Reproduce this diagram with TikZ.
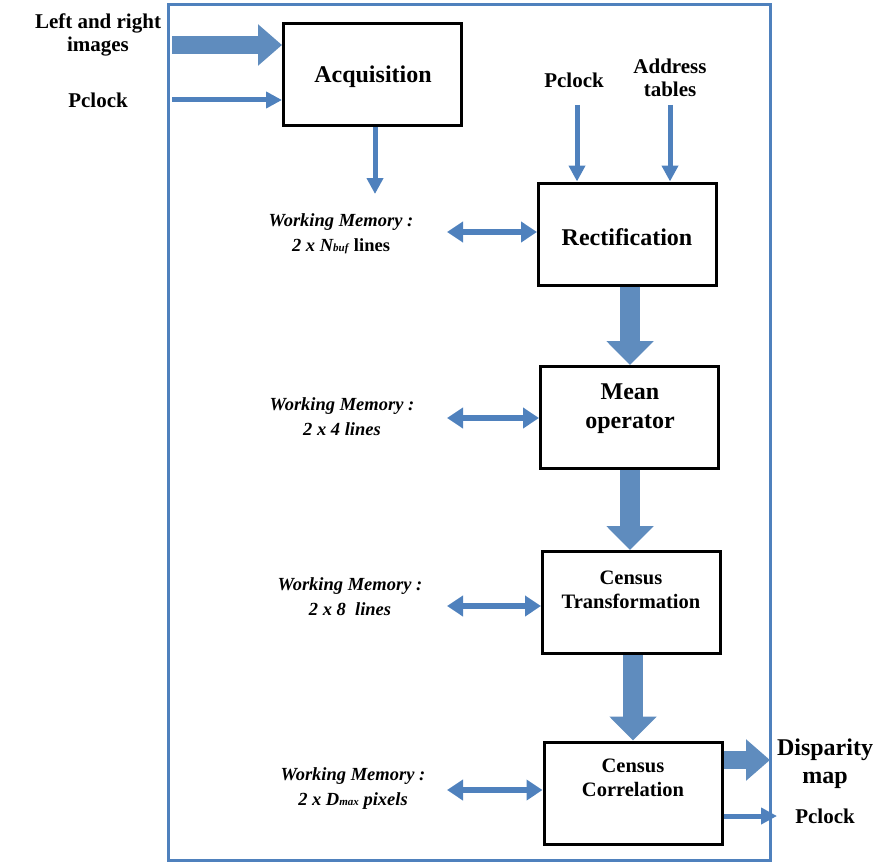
\documentclass[tikz,border=0pt]{standalone}
\usepackage{fontspec}
\setmainfont{Liberation Serif}
\usetikzlibrary{arrows.meta}
\definecolor{ablue}{RGB}{79,129,189}
\definecolor{fblue}{RGB}{95,140,190}
\begin{document}
\begin{tikzpicture}[x=1pt,y=-1pt,
  blk/.style={draw=black,line width=3pt,minimum width=178pt,minimum height=102pt,inner sep=0pt,fill=white},
  btxt/.style={font=\fontsize{24}{29}\selectfont\bfseries,align=center,inner sep=0pt},
  ctxt/.style={font=\fontsize{20.5}{24}\selectfont\bfseries,align=center,inner sep=0pt},
  ltxt/.style={font=\fontsize{21}{23}\selectfont\bfseries,align=center,inner sep=0pt},
  wtxt/.style={font=\fontsize{18.5}{25}\selectfont\bfseries\itshape,align=center,inner sep=0pt},
  fat/.style={draw=fblue,line width=20pt,-{Triangle[width=46pt,length=24pt]}},
  fath/.style={draw=fblue,line width=18pt,-{Triangle[width=40pt,length=24pt]}},
  thin/.style={draw=ablue,line width=5pt,-{Triangle[width=16pt,length=16pt]}},
  dbl/.style={draw=ablue,line width=6pt,{Triangle[width=20pt,length=16pt]}-{Triangle[width=20pt,length=16pt]}},
]
\useasboundingbox (0,0) rectangle (885,864);
\node[draw=ablue,line width=3pt,minimum width=602pt,minimum height=855pt,inner sep=0pt] (frame) at (469,432.5) {};

% blocks
\node[blk] (acq) at (372.5,74.5) {};
\node[btxt] (acqt) at (373,77) {Acquisition};
\node[blk] (rect) at (627.5,234) {};
\node[btxt] (rectt) at (627,237) {Rectification};
\node[blk] (mean) at (629.5,417.5) {};
\node[btxt] (meant) at (630,409) {Mean\\operator};
\node[blk] (ctr) at (631.5,602.5) {};
\node[ctxt] (ctrt) at (631,589.5) {Census\\Transformation};
\node[blk] (ccor) at (633,793) {};
\node[ctxt] (ccort) at (633,777.5) {Census\\Correlation};

% outside labels
\node[ltxt] (lr) at (98,35) {Left and right\\images};
\node[ltxt] (pc1) at (98,100) {Pclock};
\node[ltxt] (pc2) at (574,80) {Pclock};
\node[ltxt] (addr) at (670,78) {Address\\tables};
\node[ltxt,font=\fontsize{24}{28}\selectfont\bfseries] (disp) at (825,764) {Disparity\\map};
\node[ltxt] (pc3) at (825,816) {Pclock};

% working memory labels
\node[wtxt] (wm1) at (341,234) {Working Memory :\\2 x \textit{N}{\fontsize{11}{11}\selectfont\textit{buf}} \textup{lines}};
\node[wtxt] (wm2) at (342,417) {Working Memory :\\2 x 4 lines};
\node[wtxt] (wm3) at (350,597) {Working Memory :\\2 x 8\ \ lines};
\node[wtxt] (wm4) at (353,789) {Working Memory :\\2 x \textit{D}{\fontsize{11}{11}\selectfont\textit{max}} pixels};

% free ends
\coordinate (lrin) at (172,45);
\coordinate (pcin) at (172,100);
\coordinate (acqout) at (375,194);
\coordinate (pc2a) at (577,105);
\coordinate (addra) at (670,105);
\coordinate (dispo) at (770,760);
\coordinate (pc3o) at (777,816);

% input arrows
\draw[fath] (lrin) -- (acq.west |- lrin);
\draw[thin] (pcin) -- (acq.west |- pcin);
\draw[thin] (acq.south -| acqout) -- (acqout);
\draw[thin] (pc2a) -- (rect.north -| pc2a);
\draw[thin] (addra) -- (rect.north -| addra);

% pipeline arrows
\draw[fat] (rect.south -| 630,0) -- (mean.north -| 630,0);
\draw[fat] (mean.south -| 630,0) -- (ctr.north -| 630,0);
\draw[fat] (ctr.south -| 633,0) -- (ccor.north -| 633,0);

% memory arrows
\draw[dbl] (447,232) -- (rect.west |- 0,232);
\draw[dbl] (447,418) -- (mean.west |- 0,418);
\draw[dbl] (447,606) -- (ctr.west |- 0,606);
\draw[dbl] (447,790) -- (ccor.west |- 0,790);

% outputs
\draw[fath] (ccor.east |- dispo) -- (dispo);
\draw[thin] (ccor.east |- pc3o) -- (pc3o);
\end{tikzpicture}
\end{document}
